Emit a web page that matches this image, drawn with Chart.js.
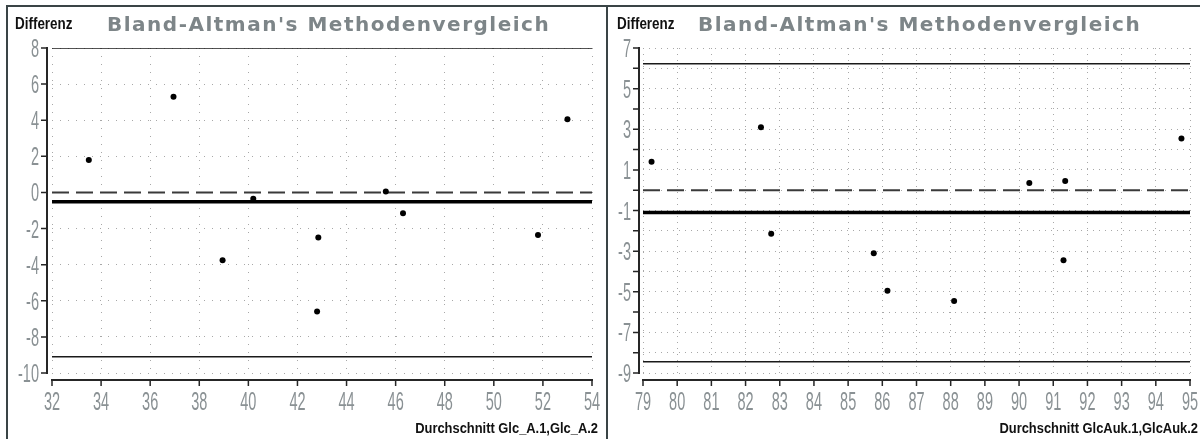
<!DOCTYPE html>
<html>
<head>
<meta charset="utf-8">
<script src="https://cdn.jsdelivr.net/npm/chart.js@4.4.1/dist/chart.umd.min.js"></script>
<style>
  html, body { margin: 0; padding: 0; background: #fff; }
  #wrap { position: relative; width: 1200px; height: 439px; overflow: hidden; }
  .panel { position: absolute; top: 0; width: 600px; height: 439px; }
  #left { left: 0; }
  #right { left: 600px; }
  .rule { position: absolute; background: #3a4446; }
</style>
</head>
<body>
<div id="wrap">
  <div class="panel" id="left"><canvas id="glcChart" width="600" height="439"></canvas></div>
  <div class="panel" id="right"><canvas id="aukChart" width="600" height="439"></canvas></div>
  <div class="rule" style="left:6px; top:5px; width:1194px; height:2px"></div>
  <div class="rule" style="left:6px; top:5px; width:2px; height:434px"></div>
  <div class="rule" style="left:606px; top:5px; width:2px; height:434px"></div>
</div>
<script>
// Glc_A: mean of both runs vs. their difference
const glcAvg  = [33.5, 36.95, 38.95, 40.2, 42.8, 42.85, 45.6, 46.3, 51.8, 53.0];
const glcDiff = [1.8, 5.3, -3.75, -0.35, -6.6, -2.5, 0.05, -1.15, -2.35, 4.05];
const glcBias = -0.52;
const glcLimits = [8.0, -9.1];
const glcXTicks = [32, 34, 36, 38, 40, 42, 44, 46, 48, 50, 52, 54];
const glcYTicks = [-10, -8, -6, -4, -2, 0, 2, 4, 6, 8];
const glcYLabels = glcYTicks;

// GlcAuk
const aukAvg  = [79.25, 82.45, 82.75, 85.75, 86.15, 88.1, 90.3, 91.3, 91.35, 94.75];
const aukDiff = [1.4, 3.1, -2.15, -3.1, -4.95, -5.45, 0.35, -3.45, 0.45, 2.55];
const aukBias = -1.1;
const aukLimits = [6.22, -8.45];
const aukXTicks = [79, 80, 81, 82, 83, 84, 85, 86, 87, 88, 89, 90, 91, 92, 93, 94, 95];
const aukYTicks = [-9, -8, -7, -6, -5, -4, -3, -2, -1, 0, 1, 2, 3, 4, 5, 6, 7];
const aukYLabels = [-9, -7, -5, -3, -1, 1, 3, 5, 7];

const TITLE = "Bland-Altman's Methodenvergleich";

function narrowText(ctx, text, x, y, align, sx) {
    ctx.save();
    ctx.translate(x, y);
    ctx.scale(sx, 1);
    ctx.textAlign = align;
    ctx.fillText(text, 0, 0);
    ctx.restore();
}

// axis lines sit a few pixels away from the plot area, ticks point outward
const axisDecor = {
    id: "axisDecor",
    afterDraw(chart, args, o) {
        const { ctx, chartArea: area, scales: { x, y } } = chart;
        const axisX = area.left - o.yGap;
        const axisY = area.bottom + 7;

        ctx.save();
        ctx.strokeStyle = "#262626";
        ctx.lineWidth = 2;
        ctx.beginPath();
        ctx.moveTo(axisX, y.getPixelForValue(y.max) - 1);
        ctx.lineTo(axisX, y.getPixelForValue(y.min) + 1);
        ctx.moveTo(x.getPixelForValue(x.min) - 1, axisY);
        ctx.lineTo(x.getPixelForValue(x.max) + 1, axisY);
        ctx.stroke();

        ctx.lineWidth = 1.5;
        ctx.beginPath();
        y.ticks.forEach(t => {
            const py = y.getPixelForValue(t.value);
            ctx.moveTo(axisX - 6, py);
            ctx.lineTo(axisX, py);
        });
        x.ticks.forEach(t => {
            const px = x.getPixelForValue(t.value);
            ctx.moveTo(px, axisY);
            ctx.lineTo(px, axisY + 6);
        });
        ctx.stroke();

        ctx.fillStyle = "#8a9194";
        ctx.font = '25px "Liberation Sans"';
        ctx.textBaseline = "alphabetic";
        o.yLabels.forEach(v => {
            narrowText(ctx, String(v), axisX - 8, y.getPixelForValue(v) + 9, "right", 0.58);
        });
        x.ticks.forEach(t => {
            narrowText(ctx, String(t.value), x.getPixelForValue(t.value), axisY + 30, "center", 0.58);
        });

        ctx.fillStyle = "#111";
        ctx.font = 'bold 16px "Liberation Sans"';
        narrowText(ctx, "Differenz", o.diffX, 29, "left", 0.84);

        ctx.font = 'bold 15px "Liberation Sans"';
        narrowText(ctx, o.xTitle, 598, 433, "right", 0.86);

        ctx.fillStyle = "#7d8588";
        ctx.font = 'bold 20px "DejaVu Sans"';
        ctx.letterSpacing = "1.5px";
        ctx.textAlign = "left";
        ctx.fillText(TITLE, o.titleX, 31);
        ctx.restore();
    }
};

function flatLine(xTicks, value, extra) {
    return Object.assign({
        data: [{ x: xTicks[0], y: value }, { x: xTicks[xTicks.length - 1], y: value }],
        showLine: true,
        pointRadius: 0,
        fill: false
    }, extra);
}

function renderBlandAltman(canvasId, p) {
    const points = p.avg.map((a, i) => ({ x: a, y: p.diff[i] }));
    new Chart(document.getElementById(canvasId), {
        type: "scatter",
        data: {
            datasets: [
                { data: points, pointRadius: 3, pointBackgroundColor: "#000", pointBorderWidth: 0 },
                flatLine(p.xTicks, p.bias, { borderColor: "#000", borderWidth: 3.5 }),
                flatLine(p.xTicks, 0, { borderColor: "#3a3a3a", borderWidth: 2, borderDash: [17, 7] }),
                flatLine(p.xTicks, p.limits[0], { borderColor: "#1a1a1a", borderWidth: 1.5 }),
                flatLine(p.xTicks, p.limits[1], { borderColor: "#1a1a1a", borderWidth: 1.5 })
            ]
        },
        options: {
            responsive: false,
            animation: false,
            layout: { padding: p.padding },
            scales: {
                x: {
                    type: "linear",
                    min: p.xTicks[0],
                    max: p.xTicks[p.xTicks.length - 1],
                    afterBuildTicks: s => { s.ticks = p.xTicks.map(v => ({ value: v })); },
                    ticks: { display: false },
                    grid: { color: "#a8a8a8", lineWidth: 1, drawTicks: false },
                    border: { display: false, dash: p.dash }
                },
                y: {
                    type: "linear",
                    min: p.yTicks[0],
                    max: p.yTicks[p.yTicks.length - 1],
                    afterBuildTicks: s => { s.ticks = p.yTicks.map(v => ({ value: v })); },
                    ticks: { display: false },
                    grid: { color: "#a8a8a8", lineWidth: 1, drawTicks: false },
                    border: { display: false, dash: p.dash }
                }
            },
            plugins: {
                legend: { display: false },
                tooltip: { enabled: false },
                axisDecor: p.decor
            }
        },
        plugins: [axisDecor]
    });
}

renderBlandAltman("glcChart", {
    avg: glcAvg, diff: glcDiff, bias: glcBias, limits: glcLimits,
    xTicks: glcXTicks, yTicks: glcYTicks, dash: [1, 7],
    padding: { left: 52, right: 8, top: 48, bottom: 66 },
    decor: { yGap: 5, yLabels: glcYLabels, diffX: 15, titleX: 107, xTitle: "Durchschnitt Glc_A.1,Glc_A.2" }
});

renderBlandAltman("aukChart", {
    avg: aukAvg, diff: aukDiff, bias: aukBias, limits: aukLimits,
    xTicks: aukXTicks, yTicks: aukYTicks, dash: [1, 5],
    padding: { left: 43, right: 10, top: 48, bottom: 66 },
    decor: { yGap: 4, yLabels: aukYLabels, diffX: 17, titleX: 98, xTitle: "Durchschnitt GlcAuk.1,GlcAuk.2" }
});
</script>
</body>
</html>
